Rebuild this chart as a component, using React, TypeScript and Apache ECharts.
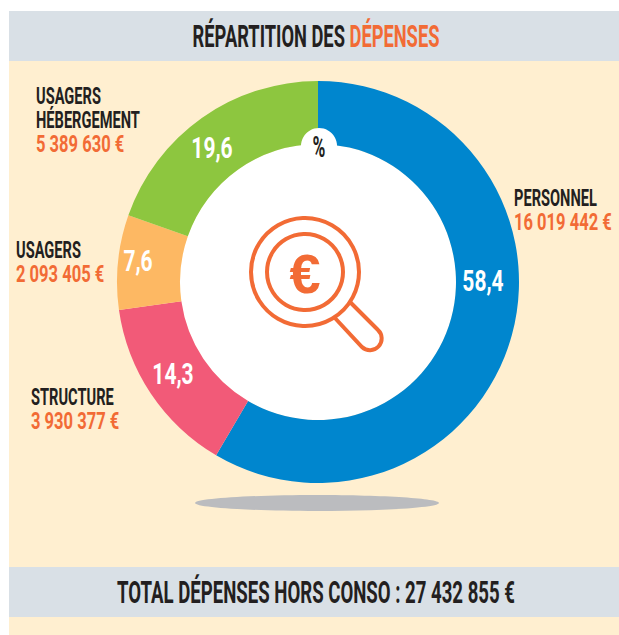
import React, { useEffect, useRef } from "react";
import * as echarts from "echarts";

const categories = ["Personnel", "Structure", "Usagers", "Usagers hébergement"];
const shares = [58.4, 14.3, 7.6, 19.6];
const shareLabels = ["58,4", "14,3", "7,6", "19,6"];
const colors = ["#0086CE", "#F25A78", "#FDB863", "#8DC63F"];
const labelSpots: [number, number][] = [[483, 281], [173, 374], [138, 261], [212, 148]];

const FONT = "Roboto, sans-serif";
const DARK = "#231F20";
const ORANGE = "#F26B35";

echarts.graphic.registerShape(
  "loupeHandle",
  echarts.graphic.extendPath("M349 301 L378 330 A11.5 11.5 0 0 1 362 347 L334 317", {})
);

function label(x: number, y: number, text: string, fill: string, scaleX = 0.61) {
  return {
    type: "text", x, y, z: 5, scaleX,
    style: { text, fill, font: `bold 24px ${FONT}`, textAlign: "left", textVerticalAlign: "middle" },
  };
}

export default function App() {
  const ref = useRef<HTMLDivElement>(null);
  useEffect(() => {
    const chart = echarts.init(ref.current!, null, { renderer: "svg" });
    chart.setOption({
      animation: false,
      series: [
        {
          type: "pie",
          center: [318, 282],
          radius: [138, 201],
          startAngle: 90,
          clockwise: true,
          silent: true,
          z: 2,
          label: { show: false },
          labelLine: { show: false },
          itemStyle: { borderWidth: 0 },
          data: categories.map((name, i) => ({ name, value: shares[i], itemStyle: { color: colors[i] } })),
        },
      ],
      graphic: [
        { type: "rect", z: -2, shape: { x: 9, y: 11, width: 610, height: 624 }, style: { fill: "#FFEFD0" } },
        { type: "rect", z: -1, shape: { x: 9, y: 11, width: 610, height: 50 }, style: { fill: "#D9E0E6" } },
        { type: "rect", z: -1, shape: { x: 9, y: 567, width: 610, height: 50 }, style: { fill: "#D9E0E6" } },
        { type: "circle", z: -1, shape: { cx: 318, cy: 282, r: 138 }, style: { fill: "#fff" } },
        { type: "ellipse", z: -1, shape: { cx: 317, cy: 503, rx: 122, ry: 8 }, style: { fill: "#BBBCBF" } },
        { type: "circle", z: 4, shape: { cx: 319, cy: 146, r: 18 }, style: { fill: "#fff" } },
        ...shareLabels.map((text, i) => ({
          type: "text", x: labelSpots[i][0], y: labelSpots[i][1], z: 5, scaleX: 0.7,
          style: { text, fill: "#fff", font: `bold 30px ${FONT}`, textAlign: "center", textVerticalAlign: "middle" },
        })),
        {
          type: "text", x: 319, y: 147, z: 5, scaleX: 0.6,
          style: { text: "%", fill: DARK, font: `bold 29px ${FONT}`, textAlign: "center", textVerticalAlign: "middle" },
        },
        {
          type: "text", x: 316, y: 36, z: 5, scaleX: 0.59,
          style: {
            text: "{a|RÉPARTITION DES }{b|DÉPENSES}",
            textAlign: "center",
            textVerticalAlign: "middle",
            rich: {
              a: { fill: DARK, font: `bold 31px ${FONT}` },
              b: { fill: ORANGE, font: `bold 31px ${FONT}` },
            },
          },
        },
        {
          type: "text", x: 316, y: 592, z: 5, scaleX: 0.6,
          style: { text: "TOTAL DÉPENSES HORS CONSO : 27 432 855 €", fill: DARK, font: `bold 31px ${FONT}`, textAlign: "center", textVerticalAlign: "middle" },
        },
        label(36, 96, "USAGERS", DARK),
        label(36, 120, "HÉBERGEMENT", DARK),
        label(36, 144, "5 389 630 €", ORANGE, 0.69),
        label(16, 250, "USAGERS", DARK),
        label(16, 274, "2 093 405 €", ORANGE, 0.69),
        label(31, 397, "STRUCTURE", DARK),
        label(31, 421, "3 930 377 €", ORANGE, 0.69),
        label(514, 198, "PERSONNEL", DARK),
        label(514, 222, "16 019 442 €", ORANGE, 0.69),
        { type: "circle", z: 5, shape: { cx: 305, cy: 272, r: 54 }, style: { fill: "none", stroke: ORANGE, lineWidth: 4 } },
        { type: "circle", z: 5, shape: { cx: 305, cy: 272, r: 38 }, style: { fill: "none", stroke: ORANGE, lineWidth: 4 } },
        { type: "loupeHandle", z: 5, style: { fill: "none", stroke: ORANGE, lineWidth: 4 } },
        {
          type: "text", x: 305, y: 273, z: 5,
          style: { text: "€", fill: ORANGE, font: "bold 56px 'Liberation Sans', sans-serif", textAlign: "center", textVerticalAlign: "middle" },
        },
      ],
    });
    return () => chart.dispose();
  }, []);
  return <div ref={ref} style={{ position: "absolute", left: 0, top: 0, width: 619, height: 635 }} />;
}
